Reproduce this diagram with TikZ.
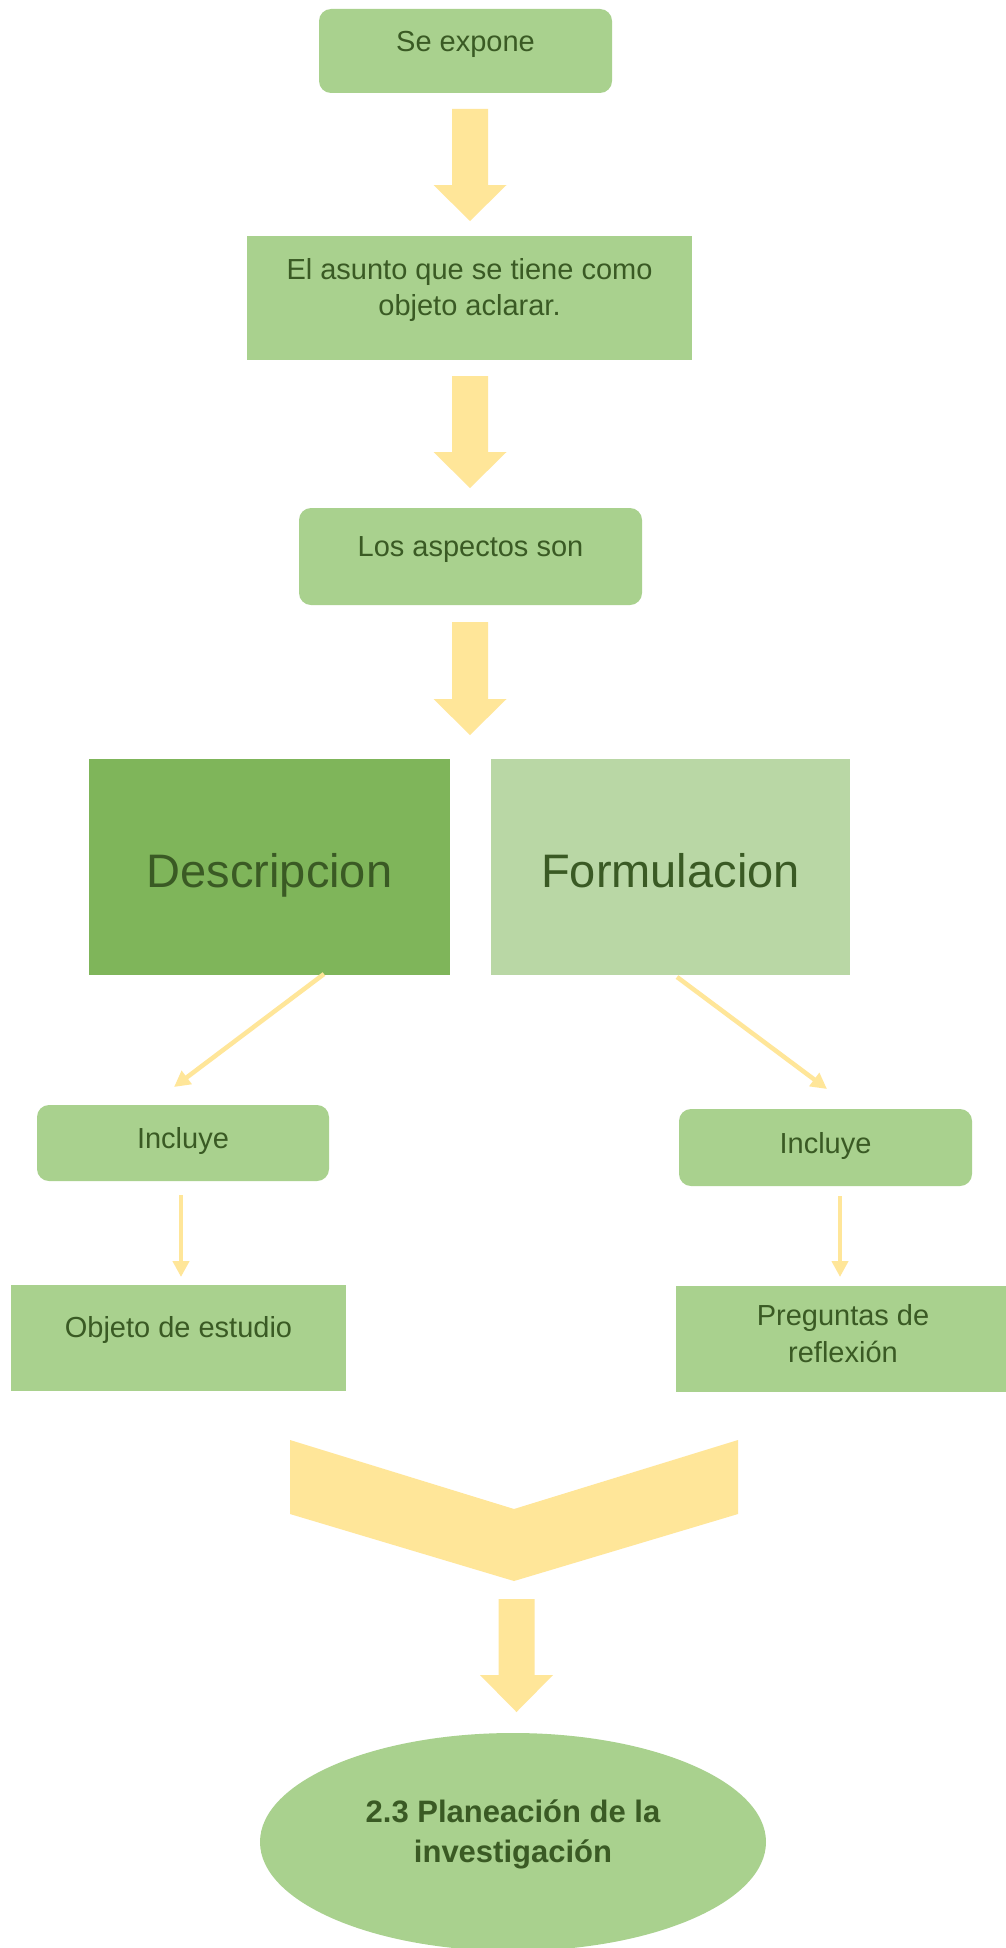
\documentclass[tikz,border=0pt]{standalone}
\usepackage{fontspec}
\setmainfont{Liberation Sans}
\usetikzlibrary{arrows.meta,shapes.geometric}
\definecolor{boxgreen}{HTML}{A9D18E}
\definecolor{descgreen}{HTML}{7FB55A}
\definecolor{formgreen}{HTML}{B9D7A5}
\definecolor{arrowy}{HTML}{FFE699}
\definecolor{textgreen}{HTML}{3A5A24}
\newcommand\blockarrowdown[4]{% center x, top y, neck y, tip y
  \fill[arrowy] (#1-18,#2) -- (#1+18,#2) -- (#1+18,#3) -- (#1+36.5,#3) -- (#1,#4) -- (#1-36.5,#3) -- (#1-18,#3) -- cycle;}
\begin{document}
\begin{tikzpicture}[x=1pt,y=-1pt,
  rbox/.style={fill=boxgreen,draw=none,rounded corners=12pt,inner sep=0pt},
  sbox/.style={fill=boxgreen,draw=none,inner sep=0pt},
  txt/.style={text=textgreen,inner sep=0pt,font=\fontsize{29pt}{36pt}\selectfont,align=center},
  bigtxt/.style={text=textgreen,inner sep=0pt,font=\fontsize{47pt}{56pt}\selectfont},
  boldtxt/.style={text=textgreen,inner sep=0pt,font=\bfseries\fontsize{31pt}{40pt}\selectfont,align=center},
  thinarrow/.style={draw=arrowy,line width=4.5pt,-{Triangle[width=16pt,length=16pt]}}]
\useasboundingbox (0,0) rectangle (1005,1948);
\fill[white] (0,0) rectangle (1005,1948);
% box 1
\node[rbox,minimum width=293pt,minimum height=84pt] (b1) at (465.5,51) {};
\node[txt,anchor=base] (t1) at (465.5,52) {Se expone};
\blockarrowdown{470}{109}{185}{221}
% box 2
\node[sbox,minimum width=445pt,minimum height=124pt] (b2) at (469.5,298) {};
\node[txt] (t2) at (469.5,290) {El asunto que se tiene como\\objeto aclarar.};
\blockarrowdown{470}{376}{452}{488}
% box 3
\node[rbox,minimum width=343pt,minimum height=97pt] (b3) at (470.5,556.5) {};
\node[txt,anchor=base] (t3) at (470.5,556) {Los aspectos son};
\blockarrowdown{470}{622}{699}{735}
% Descripcion / Formulacion
\node[fill=descgreen,inner sep=0pt,minimum width=361pt,minimum height=216pt] (desc) at (269.5,867) {};
\node[bigtxt,anchor=base] (tdesc) at (269.5,887) {Descripcion};
\node[fill=formgreen,inner sep=0pt,minimum width=359pt,minimum height=216pt] (form) at (670.5,867) {};
\node[bigtxt,anchor=base] (tform) at (670.5,887) {Formulacion};
% Incluye boxes
\node[rbox,minimum width=292pt,minimum height=76pt] (incl) at (183,1143) {};
\node[txt,anchor=base] (tincl) at (183,1148) {Incluye};
\node[rbox,minimum width=293pt,minimum height=77pt] (incr) at (825.5,1147.5) {};
\node[txt,anchor=base] (tincr) at (825.5,1153) {Incluye};
% diagonal connectors
\coordinate (dls) at (324,974);
\coordinate (dle) at (174,1087);
\coordinate (drs) at (677,977);
\coordinate (dre) at (827,1089);
\draw[thinarrow] (dls) -- (dle);
\draw[thinarrow] (drs) -- (dre);
% vertical connectors
\coordinate (vls) at (181,1195);
\coordinate (vle) at (181,1277);
\coordinate (vrs) at (840,1196);
\coordinate (vre) at (840,1277);
\draw[thinarrow] (vls) -- (vle);
\draw[thinarrow] (vrs) -- (vre);
% bottom boxes
\node[sbox,minimum width=335pt,minimum height=106pt] (obj) at (178.5,1338) {};
\node[txt,anchor=base] (tobj) at (178.5,1337) {Objeto de estudio};
\node[sbox,minimum width=334pt,minimum height=106pt] (preg) at (843,1339) {};
\node[txt,anchor=base] (tpreg1) at (843,1325) {Preguntas de};
\node[txt,anchor=base] (tpreg2) at (843,1362) {reflexión};
% chevron
\fill[arrowy] (290,1440) -- (514,1509) -- (738,1440) -- (738,1514) -- (514,1581) -- (290,1514) -- cycle;
\blockarrowdown{516.5}{1599}{1675}{1712}
% ellipse
\node[ellipse,fill=boxgreen,inner sep=0pt,minimum width=506pt,minimum height=218pt] (ell) at (513,1842) {};
\node[boldtxt,anchor=base] (tell1) at (513,1822) {2.3 Planeación de la};
\node[boldtxt,anchor=base] (tell2) at (513,1862) {investigación};
\end{tikzpicture}
\end{document}
